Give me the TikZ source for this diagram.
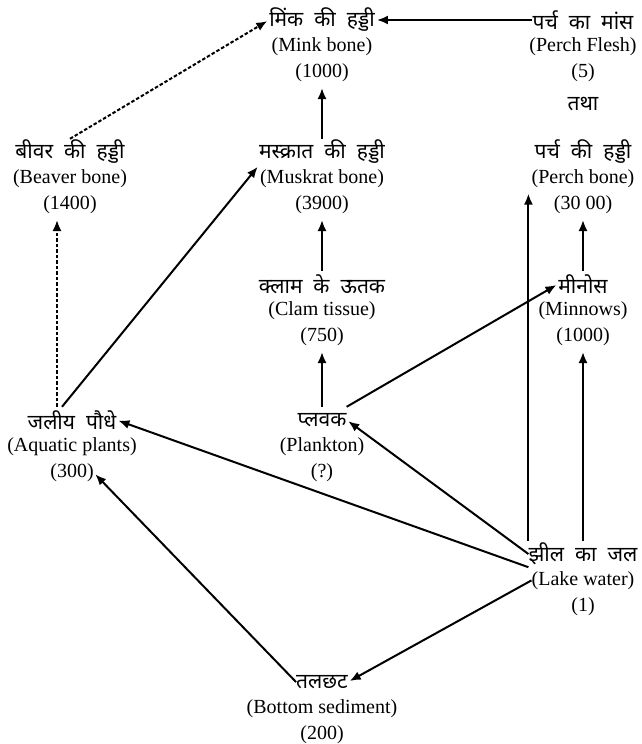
\documentclass[tikz,border=0pt]{standalone}
\usepackage{fontspec}
\setmainfont{Liberation Serif}
\newfontfamily\hindi[Script=Devanagari,WordSpace=2]{Noto Sans}
\usetikzlibrary{arrows.meta,positioning}

\begin{document}
\begin{tikzpicture}[x=1pt,y=-1pt,
  txt/.style={inner sep=0pt,minimum height=26pt,font=\fontsize{20}{24}\selectfont},
  hin/.style={inner sep=0pt,minimum height=26pt,font=\hindi\fontsize{21}{24}\selectfont},
  flow/.style={-{Latex[length=11pt,width=9pt]},line width=2pt,shorten >=2pt},
  guess/.style={flow,dash pattern=on 3.5pt off 2pt}]
 \pgfmathsetmacro{\colL}{70}
 \pgfmathsetmacro{\colM}{322}
 \pgfmathsetmacro{\colR}{583}
 \useasboundingbox (0,0) rectangle (641,744);

 % top row
 \node[hin] (mink) at (\colM,20) {मिंक की हड्डी};
 \node[txt,below=0pt of mink] (minkE) {(Mink bone)};
 \node[txt,below=0pt of minkE] (minkV) {(1000)};
 \node[hin] (flesh) at (\colR,20) {पर्च का मांस};
 \node[txt,below=0pt of flesh] (fleshE) {(Perch Flesh)};
 \node[txt,below=0pt of fleshE] (fleshV) {(5)};
 \node[hin] (tatha) at (\colR,104) {तथा};

 % bones
 \node[hin] (beaver) at (\colL,152) {बीवर की हड्डी};
 \node[txt,below=0pt of beaver] (beaverE) {(Beaver bone)};
 \node[txt,below=0pt of beaverE] (beaverV) {(1400)};
 \node[hin] (muskrat) at (\colM,152) {मस्क्रात की हड्डी};
 \node[txt,below=0pt of muskrat] (muskratE) {(Muskrat bone)};
 \node[txt,below=0pt of muskratE] (muskratV) {(3900)};
 \node[hin] (perch) at (\colR,152) {पर्च की हड्डी};
 \node[txt,below=0pt of perch] (perchE) {(Perch bone)};
 \node[txt,below=0pt of perchE] (perchV) {(30 00)};

 \node[hin] (clam) at (\colM,284) {क्लाम के ऊतक};
 \node[txt,below=0pt of clam] (clamE) {(Clam tissue)};
 \node[txt,below=0pt of clamE] (clamV) {(750)};
 \node[hin] (minnows) at (\colR,284) {मीनोस};
 \node[txt,below=0pt of minnows] (minnowsE) {(Minnows)};
 \node[txt,below=0pt of minnowsE] (minnowsV) {(1000)};

 \node[hin] (aquatic) at (\colL+2,420) {जलीय पौधे};
 \node[txt,below=0pt of aquatic] (aquaticE) {(Aquatic plants)};
 \node[txt,below=0pt of aquaticE] (aquaticV) {(300)};
 \node[hin] (plankton) at (\colM,420) {प्लवक};
 \node[txt,below=0pt of plankton] (planktonE) {(Plankton)};
 \node[txt,below=0pt of planktonE] (planktonV) {(?)};

 \node[hin] (lake) at (\colR,554) {झील का जल};
 \node[txt,below=0pt of lake] (lakeE) {(Lake water)};
 \node[txt,below=0pt of lakeE] (lakeV) {(1)};
 \node[hin] (bottom) at (\colM,682) {तलछट};
 \node[txt,below=0pt of bottom] (bottomE) {(Bottom sediment)};
 \node[txt,below=0pt of bottomE] (bottomV) {(200)};

 % arrows
 \draw[flow] (flesh.west) -- (mink.east);
 \draw[guess] (beaver.north) -- (mink.west);
 \draw[flow] (muskrat.north) -- (minkV.south);
 \draw[guess] ([xshift=-15pt]aquatic.north) -- ([xshift=-15pt]aquatic.north |- beaverV.south);
 \draw[flow] ([xshift=-10pt]aquatic.north) -- (muskrat.south west);
 \draw[flow] (clam.north) -- (muskratV.south);
 \draw[flow] (plankton.north) -- (clamV.south);
 \draw[flow] (plankton.north east) -- (minnows.west);
 \draw[flow] (minnows.north) -- (perchV.south);
 \draw[flow] (lake.north west) -- (lake.north west |- perchE.south);
 \draw[flow] (minnowsV.south |- lake.north) -- (minnowsV.south);
 \draw[flow] (lake.west) -- (plankton.east);
 \draw[flow] (lake.south west) -- (aquatic.east);
 \draw[flow] (lakeE.west) -- (bottom.east);
 \draw[flow] (bottom.west) -- (aquaticV.east);
\end{tikzpicture}
\end{document}
